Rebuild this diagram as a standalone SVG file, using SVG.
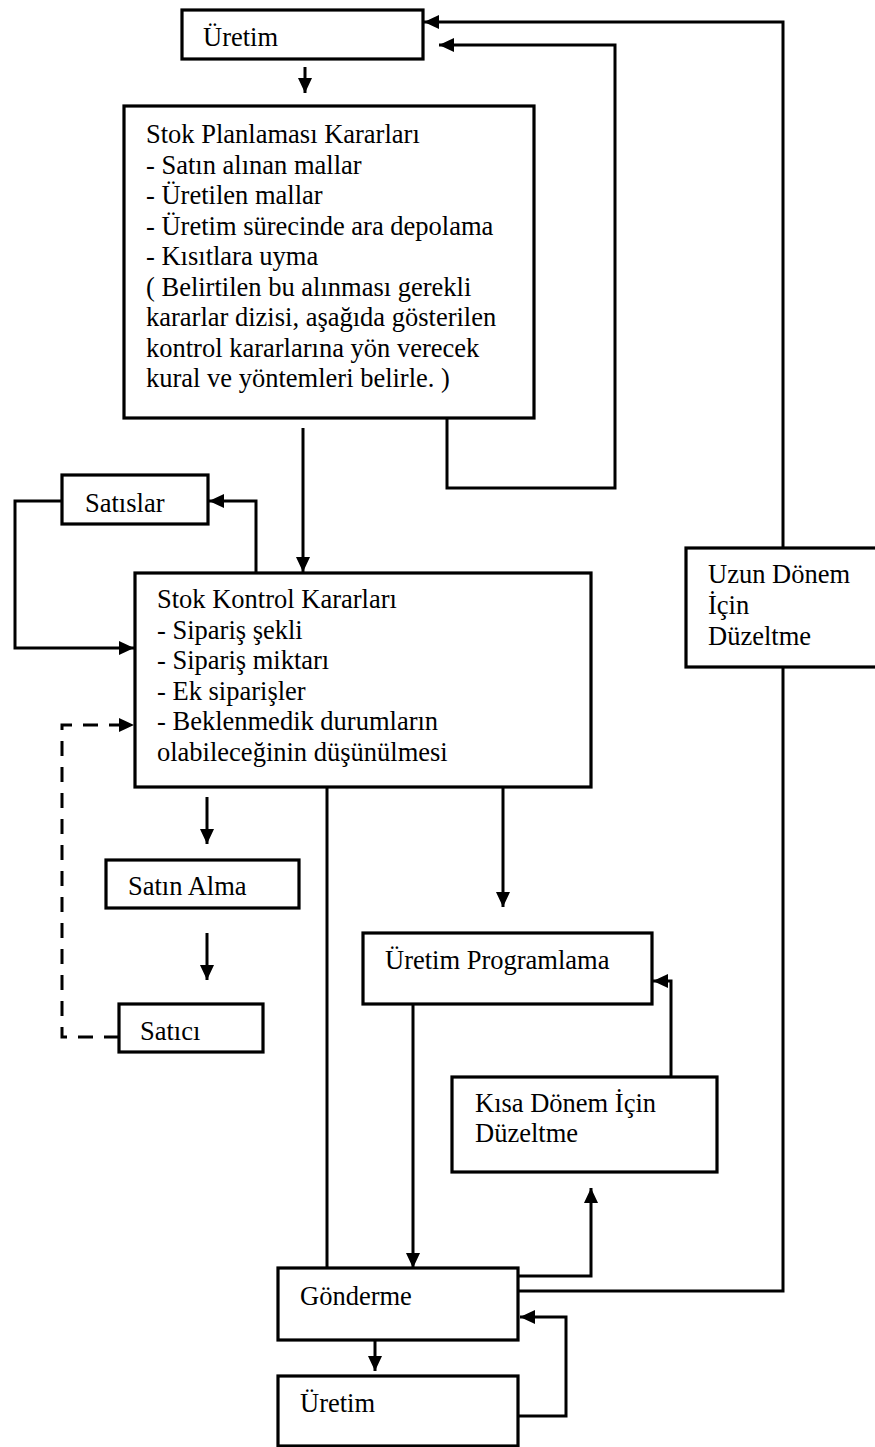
<svg xmlns="http://www.w3.org/2000/svg" width="875" height="1447" viewBox="0 0 875 1447">
<style>
.box{fill:#fff;stroke:#000;stroke-width:3.2}
.t{font-family:"Liberation Serif","Times New Roman",serif;font-size:26.5px;fill:#000}
.c{fill:none;stroke:#000;stroke-width:3}
.d{fill:none;stroke:#000;stroke-width:3;stroke-dasharray:15 11}
</style>
<defs>
<marker id="ah" markerUnits="userSpaceOnUse" markerWidth="15" markerHeight="14" refX="15" refY="7" orient="auto">
<path d="M0,0 L15,7 L0,14 z" fill="#000"/>
</marker>
</defs>
<rect width="875" height="1447" fill="#fff"/>
<g id="connectors">
<path class="c" d="M305,67 V93" marker-end="url(#ah)"/>
<path class="c" d="M303,428 V572" marker-end="url(#ah)"/>
<path class="c" d="M447,418 V488 H615 V45 H439" marker-end="url(#ah)"/>
<path class="c" d="M518,1291 H783 V22 H424" marker-end="url(#ah)"/>
<path class="c" d="M256,572 V501 H209" marker-end="url(#ah)"/>
<path class="c" d="M62,501 H15 V648 H134" marker-end="url(#ah)"/>
<path class="d" d="M119,1037 H62 V725 H134" marker-end="url(#ah)"/>
<path class="c" d="M207,797 V844" marker-end="url(#ah)"/>
<path class="c" d="M207,933 V980" marker-end="url(#ah)"/>
<path class="c" d="M327,788 V1268"/>
<path class="c" d="M503,788 V907" marker-end="url(#ah)"/>
<path class="c" d="M413,1004 V1268" marker-end="url(#ah)"/>
<path class="c" d="M671,1077 V981 H653" marker-end="url(#ah)"/>
<path class="c" d="M518,1276 H591 V1188" marker-end="url(#ah)"/>
<path class="c" d="M518,1416 H566 V1317 H520" marker-end="url(#ah)"/>
<path class="c" d="M375,1340 V1371" marker-end="url(#ah)"/>
</g>
<g id="uretim-top">
<rect class="box" x="182" y="10" width="241" height="49"/>
<text class="t" x="203" y="46">Üretim</text>
</g>
<g id="stok-planlama">
<rect class="box" x="124" y="106" width="410" height="312"/>
<text class="t" x="146" y="143">Stok Planlaması Kararları</text>
<text class="t" x="146" y="173.5">- Satın alınan mallar</text>
<text class="t" x="146" y="204">- Üretilen mallar</text>
<text class="t" x="146" y="234.5">- Üretim sürecinde ara depolama</text>
<text class="t" x="146" y="265">- Kısıtlara uyma</text>
<text class="t" x="146" y="295.5">( Belirtilen bu alınması gerekli</text>
<text class="t" x="146" y="326">kararlar dizisi, aşağıda gösterilen</text>
<text class="t" x="146" y="356.5">kontrol kararlarına yön verecek</text>
<text class="t" x="146" y="387">kural ve yöntemleri belirle. )</text>
</g>
<g id="satislar">
<rect class="box" x="62" y="475" width="146" height="49"/>
<text class="t" x="85" y="512">Satıslar</text>
</g>
<g id="stok-kontrol">
<rect class="box" x="135" y="573" width="456" height="214"/>
<text class="t" x="157" y="608">Stok Kontrol Kararları</text>
<text class="t" x="157" y="638.5">- Sipariş şekli</text>
<text class="t" x="157" y="669">- Sipariş miktarı</text>
<text class="t" x="157" y="699.5">- Ek siparişler</text>
<text class="t" x="157" y="730">- Beklenmedik durumların</text>
<text class="t" x="157" y="760.5">olabileceğinin düşünülmesi</text>
</g>
<g id="satin-alma">
<rect class="box" x="106" y="860" width="193" height="48"/>
<text class="t" x="128" y="895">Satın Alma</text>
</g>
<g id="satici">
<rect class="box" x="119" y="1004" width="144" height="48"/>
<text class="t" x="140" y="1040">Satıcı</text>
</g>
<g id="uretim-programlama">
<rect class="box" x="363" y="933" width="289" height="71"/>
<text class="t" x="385" y="969">Üretim Programlama</text>
</g>
<g id="kisa-donem">
<rect class="box" x="452" y="1077" width="265" height="95"/>
<text class="t" x="475" y="1112">Kısa Dönem İçin</text>
<text class="t" x="475" y="1142">Düzeltme</text>
</g>
<g id="uzun-donem">
<rect class="box" x="686" y="548" width="200" height="119"/>
<text class="t" x="708" y="583">Uzun Dönem</text>
<text class="t" x="708" y="614">İçin</text>
<text class="t" x="708" y="645">Düzeltme</text>
</g>
<g id="gonderme">
<rect class="box" x="278" y="1268" width="240" height="72"/>
<text class="t" x="300" y="1305">Gönderme</text>
</g>
<g id="uretim-bottom">
<rect class="box" x="278" y="1376" width="240" height="70"/>
<text class="t" x="300" y="1412">Üretim</text>
</g>
</svg>
